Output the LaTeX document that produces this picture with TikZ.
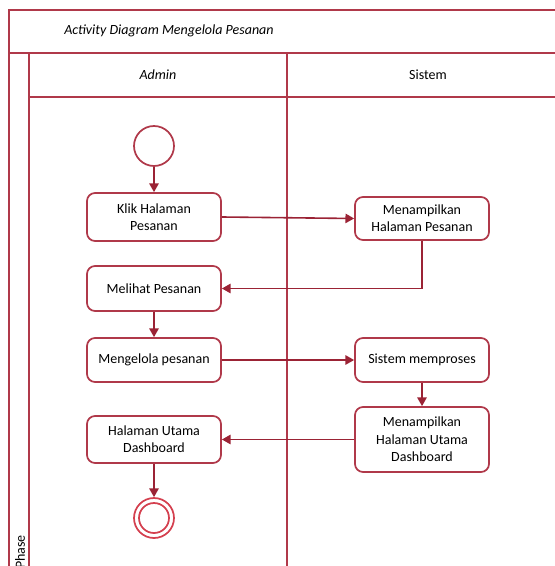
\documentclass[tikz,border=0pt]{standalone}
\usepackage{fontspec}
\setmainfont{Carlito}
\usetikzlibrary{arrows.meta}
\definecolor{frame}{HTML}{B0394A}
\definecolor{flow}{HTML}{9B2335}
\definecolor{finalred}{HTML}{D4404F}
\tikzset{
  act/.style={draw=frame, line width=1.3pt, rounded corners=6pt, fill=white,
    minimum width=100.5pt, inner sep=2pt, align=center,
    font=\fontsize{10.5pt}{13pt}\selectfont},
  flowline/.style={draw=flow, line width=1.2pt,
    -{Triangle[length=6.5pt,width=7pt]}},
  lane/.style={draw=frame, line width=1.3pt},
  hdr/.style={font=\fontsize{10.5pt}{13pt}\selectfont, inner sep=0pt},
}
\begin{document}
\begin{tikzpicture}[x=0.75pt,y=-0.75pt]
\useasboundingbox (0,0) rectangle (555,566);
\clip (0,0) rectangle (555,566);
% swimlane frame
\draw[lane] (9,600) -- (9,10) -- (600,10);
\draw[lane] (9,53) -- (600,53);
\draw[lane] (29,53) -- (29,600);
\draw[lane] (29,97) -- (600,97);
\draw[lane] (287,53) -- (287,600);
% headers
\node[hdr, font=\fontsize{10.5pt}{13pt}\selectfont\itshape, anchor=west] (title) at (64,31) {Activity Diagram Mengelola Pesanan};
\node[hdr, font=\fontsize{10.5pt}{13pt}\selectfont\itshape] (admin) at (158,75) {Admin};
\node[hdr] (sistem) at (428,75) {Sistem};
\node[hdr, rotate=90] (phase) at (20,552) {Phase};
% start and end
\node[draw=frame, line width=1.3pt, circle, minimum size=30pt, inner sep=0pt] (start) at (154,146) {};
\node[draw=finalred, line width=1.3pt, circle, minimum size=30pt, inner sep=0pt] (end) at (154,518) {};
\node[draw=finalred, line width=1.3pt, circle, minimum size=22.5pt, inner sep=0pt] (endin) at (154,518) {};
% activities
\node[act, minimum height=36pt] (klik) at (154,217) {Klik Halaman\\Pesanan};
\node[act, minimum height=32.25pt] (tampil) at (422,218.5) {Menampilkan\\Halaman Pesanan};
\node[act, minimum height=33.75pt] (lihat) at (154,288.5) {Melihat Pesanan};
\node[act, minimum height=33pt] (kelola) at (154,360) {Mengelola pesanan};
\node[act, minimum height=33pt] (proses) at (422,360) {Sistem memproses};
\node[act, minimum height=48.75pt] (dash) at (422,439.5) {Menampilkan\\Halaman Utama\\Dashboard};
\node[act, minimum height=35.25pt] (utama) at (154,439.5) {Halaman Utama\\Dashboard};
% flows
\draw[flowline] (start) -- (klik);
\draw[flowline] (klik.east) -- (tampil.west);
\draw[flowline] (tampil.south) |- (lihat.east);
\draw[flowline] (lihat) -- (kelola);
\draw[flowline] (kelola) -- (proses);
\draw[flowline] (proses) -- (dash);
\draw[flowline] (dash.west) -- (utama.east);
\draw[flowline] (utama) -- (end);
\end{tikzpicture}
\end{document}
